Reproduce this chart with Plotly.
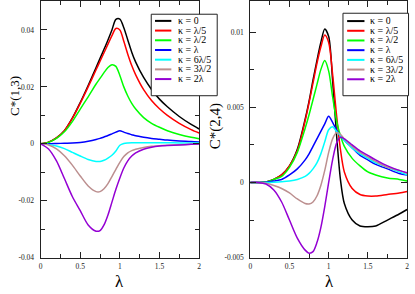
import plotly.graph_objects as go

W, H = 415, 294

lam = [0, 0.1, 0.2, 0.3, 0.4, 0.5, 0.6, 0.7, 0.75, 0.8, 0.85, 0.9, 0.95, 1.0,
       1.05, 1.1, 1.15, 1.2, 1.3, 1.4, 1.5, 1.6, 1.75, 1.9, 2.0]

labels = ["κ = 0", "κ = λ/5", "κ = λ/2", "κ = λ", "κ = 6λ/5", "κ = 3λ/2", "κ = 2λ"]
colors = ["#000000", "#ff0000", "#00ff00", "#0000ff", "#00ffff", "#bc8f8f", "#9400d3"]

# C*(1,3)
c13_k0 = [0, 0.0006, 0.0021, 0.0046, 0.0090, 0.0145, 0.0205, 0.0268, 0.0300, 0.0332, 0.0365,
          0.0400, 0.0437, 0.0438, 0.0408, 0.0365, 0.0322, 0.0287, 0.0233, 0.0191, 0.0157,
          0.0130, 0.0096, 0.0068, 0.0052]
c13_k1 = [0, 0.0006, 0.0021, 0.0046, 0.0089, 0.0142, 0.0200, 0.0260, 0.0290, 0.0320, 0.0350,
          0.0380, 0.0405, 0.0400, 0.0360, 0.0315, 0.0275, 0.0242, 0.0190, 0.0152, 0.0123,
          0.0100, 0.0072, 0.0050, 0.0038]
c13_k2 = [0, 0.0005, 0.0019, 0.0042, 0.0078, 0.0122, 0.0165, 0.0210, 0.0230, 0.0250, 0.0268,
          0.0278, 0.0272, 0.0240, 0.0200, 0.0168, 0.0142, 0.0122, 0.0092, 0.0072, 0.0058,
          0.0046, 0.0033, 0.0023, 0.0018]
c13_k3 = [0, 0.0000, 0.0001, 0.0002, 0.0003, 0.0005, 0.0009, 0.0015, 0.0019, 0.0024, 0.0029,
          0.0035, 0.0041, 0.0046, 0.0041, 0.0036, 0.0032, 0.0028, 0.0023, 0.0019, 0.0016,
          0.0013, 0.0010, 0.0008, 0.0006]
c13_k4 = [0, -0.0002, -0.0008, -0.0017, -0.0030, -0.0043, -0.0055, -0.0062, -0.0062, -0.0058,
          -0.0050, -0.0040, -0.0025, -0.0005, 0.0001, 0.0003, 0.0004, 0.0004, 0.0004, 0.0004,
          0.0004, 0.0004, 0.0003, 0.0003, 0.0003]
c13_k5 = [0, -0.0004, -0.0018, -0.0042, -0.0075, -0.0113, -0.0148, -0.0168, -0.0168, -0.0158,
          -0.0140, -0.0115, -0.0090, -0.0065, -0.0045, -0.0032, -0.0024, -0.0019, -0.0013,
          -0.0009, -0.0007, -0.0005, -0.0003, -0.0002, -0.0001]
c13_k6 = [0, -0.0018, -0.0060, -0.0122, -0.0185, -0.0235, -0.0285, -0.0307, -0.0305, -0.0285,
          -0.0250, -0.0205, -0.0160, -0.0120, -0.0085, -0.0060, -0.0043, -0.0032, -0.0019,
          -0.0012, -0.0008, -0.0006, -0.0004, -0.0002, -0.0001]

# C*(2,4)
c24_k0 = [0, 0.0, 0.00003, 0.0002, 0.0005, 0.0011, 0.0022, 0.0042, 0.0054, 0.0068, 0.0081,
          0.0093, 0.0102, 0.0097, 0.0068, 0.0032, 0.0002, -0.0014, -0.0025, -0.0029, -0.00295,
          -0.0029, -0.0025, -0.0021, -0.0018]
c24_k1 = [0, 0.0, 0.00003, 0.0002, 0.0005, 0.0011, 0.0021, 0.0041, 0.0053, 0.0066, 0.0079,
          0.0090, 0.0098, 0.0093, 0.0072, 0.0045, 0.0022, 0.0007, -0.0004, -0.0008, -0.0009,
          -0.0009, -0.0008, -0.0007, -0.0006]
c24_k2 = [0, 0.0, 0.00003, 0.0002, 0.0004, 0.0010, 0.0020, 0.0036, 0.0045, 0.0055, 0.0065,
          0.0075, 0.0081, 0.0074, 0.0057, 0.0041, 0.0031, 0.0024, 0.0016, 0.0011, 0.0007,
          0.0005, 0.0003, 0.0002, 0.0001]
c24_k3 = [0, 0.0, 0.00002, 0.0001, 0.0002, 0.0005, 0.0009, 0.0015, 0.0019, 0.0024, 0.0029,
          0.0034, 0.0039, 0.0044, 0.0040, 0.0035, 0.0031, 0.0028, 0.0023, 0.0018, 0.0015,
          0.0012, 0.0009, 0.0006, 0.0005]
c24_k4 = [0, 0.0, 0.0, 0.00002, 0.00005, 0.0001, 0.0002, 0.0004, 0.0006, 0.0009, 0.0013,
          0.0019, 0.0027, 0.0035, 0.0037, 0.0034, 0.0031, 0.0028, 0.0023, 0.0019, 0.0016,
          0.0013, 0.0010, 0.0007, 0.0005]
c24_k5 = [0, 0.0, -0.00005, -0.0002, -0.0004, -0.0007, -0.0011, -0.0014, -0.00143, -0.0013,
          -0.0009, -0.0002, 0.0008, 0.0020, 0.0029, 0.0033, 0.0032, 0.0029, 0.0024, 0.0020,
          0.0017, 0.0014, 0.0010, 0.0008, 0.0006]
c24_k6 = [0, 0.0, -0.0001, -0.0005, -0.0013, -0.0025, -0.0037, -0.0045, -0.0047, -0.0046,
          -0.0040, -0.0030, -0.0016, 0.0000, 0.0015, 0.0026, 0.0030, 0.0029, 0.0025, 0.0021,
          0.0018, 0.0015, 0.0011, 0.0008, 0.00065]

x_ticks = [0, 0.5, 1, 1.5, 2]
x_ticktext = ["0", "0.5", "1", "1.5", "2"]
y13_ticks = [-0.04, -0.02, 0, 0.02, 0.04]
y13_ticktext = ["-0.04", "-0.02", "0", "0.02", "0.04"]
y24_ticks = [-0.005, 0, 0.005, 0.01]
y24_ticktext = ["-0.005", "0", "0.005", "0.01"]

left_series = [c13_k0, c13_k1, c13_k2, c13_k3, c13_k4, c13_k5, c13_k6]
right_series = [c24_k0, c24_k1, c24_k2, c24_k3, c24_k4, c24_k5, c24_k6]

FONT = "Liberation Serif, Times New Roman, serif"

fig = go.Figure()
for i, ys in enumerate(left_series):
    fig.add_trace(go.Scatter(x=lam, y=ys, mode="lines", name=labels[i], showlegend=False,
                             line=dict(color=colors[i], width=1.5, shape="spline", smoothing=0.8),
                             xaxis="x", yaxis="y"))
for i, ys in enumerate(right_series):
    fig.add_trace(go.Scatter(x=lam, y=ys, mode="lines", name=labels[i], showlegend=False,
                             line=dict(color=colors[i], width=1.5, shape="spline", smoothing=0.8),
                             xaxis="x2", yaxis="y2"))

def px_x(p):
    return p / W

def px_y(p):
    return 1 - p / H

common = dict(showline=True, linecolor="#222", linewidth=1, mirror="ticks", ticks="inside",
              ticklen=6, tickwidth=1, tickcolor="#222", showgrid=False, zeroline=False,
              tickfont=dict(family=FONT, size=7.5, color="#222"))

ydom = [px_y(262), px_y(0.5)]
fig.update_layout(
    width=W, height=H, margin=dict(l=0, r=0, t=0, b=0),
    paper_bgcolor="white", plot_bgcolor="white", showlegend=False,
    xaxis=dict(domain=[px_x(39), px_x(199)], range=[0, 2], tickvals=x_ticks, ticktext=x_ticktext,
               minor=dict(dtick=0.25, ticklen=4, ticks="inside", tickcolor="#222"),
               anchor="y", ticklabelstandoff=1, **common),
    yaxis=dict(domain=ydom, range=[-0.04, 0.05], tickvals=y13_ticks, ticktext=y13_ticktext,
               minor=dict(dtick=0.01, ticklen=4, ticks="inside", tickcolor="#222"),
               anchor="x", ticklabelstandoff=4, **common),
    xaxis2=dict(domain=[px_x(250.7), px_x(409)], range=[0, 2], tickvals=x_ticks, ticktext=x_ticktext,
                minor=dict(dtick=0.25, ticklen=4, ticks="inside", tickcolor="#222"),
                anchor="y2", ticklabelstandoff=1, **common),
    yaxis2=dict(domain=ydom, range=[-0.005, 0.01203], tickvals=y24_ticks, ticktext=y24_ticktext,
                minor=dict(dtick=0.0025, ticklen=4, ticks="inside", tickcolor="#222"),
                anchor="x2", ticklabelstandoff=4, **common),
)

annotations = []
shapes = []

def add_legend(x0, x1, y0, y1, lx0, lx1, tx, row0, dy):
    shapes.append(dict(type="rect", xref="paper", yref="paper",
                       x0=px_x(x0), x1=px_x(x1), y0=px_y(y1), y1=px_y(y0),
                       line=dict(color="#222", width=1), fillcolor="white", layer="above"))
    for i, lab in enumerate(labels):
        yy = row0 + dy * i
        shapes.append(dict(type="line", xref="paper", yref="paper",
                           x0=px_x(lx0), x1=px_x(lx1), y0=px_y(yy), y1=px_y(yy),
                           line=dict(color=colors[i], width=2), layer="above"))
        annotations.append(dict(xref="paper", yref="paper", x=px_x(tx), y=px_y(yy),
                                xanchor="left", yanchor="middle", showarrow=False, text=lab,
                                height=9.5, borderpad=0, valign="middle",
                                font=dict(family=FONT, size=10, color="black")))

add_legend(150.7, 217.3, 13.5, 96.7, 154.5, 171, 176.5, 20.3, 9.9)
add_legend(344.3, 410.5, 12.5, 96.7, 348.5, 366, 370.5, 20.5, 9.9)

annotations += [
    dict(xref="paper", yref="paper", x=px_x(119), y=px_y(286), text="λ", showarrow=False,
         xanchor="center", yanchor="middle", font=dict(family=FONT, size=17, color="black")),
    dict(xref="paper", yref="paper", x=px_x(331), y=px_y(286), text="λ", showarrow=False,
         xanchor="center", yanchor="middle", font=dict(family=FONT, size=17, color="black")),
    dict(xref="paper", yref="paper", x=px_x(12), y=px_y(97), text="C*(1,3)", showarrow=False,
         textangle=-90, xanchor="center", yanchor="middle",
         font=dict(family=FONT, size=13, color="black")),
    dict(xref="paper", yref="paper", x=px_x(215), y=px_y(128), text="C*(2,4)", showarrow=False,
         textangle=-90, xanchor="center", yanchor="middle",
         font=dict(family=FONT, size=15, color="black")),
]

fig.update_layout(annotations=annotations, shapes=shapes)
fig.write_html("out.html", config={"displayModeBar": False},
               post_script="document.body.style.margin='0';document.body.style.overflow='hidden';")
